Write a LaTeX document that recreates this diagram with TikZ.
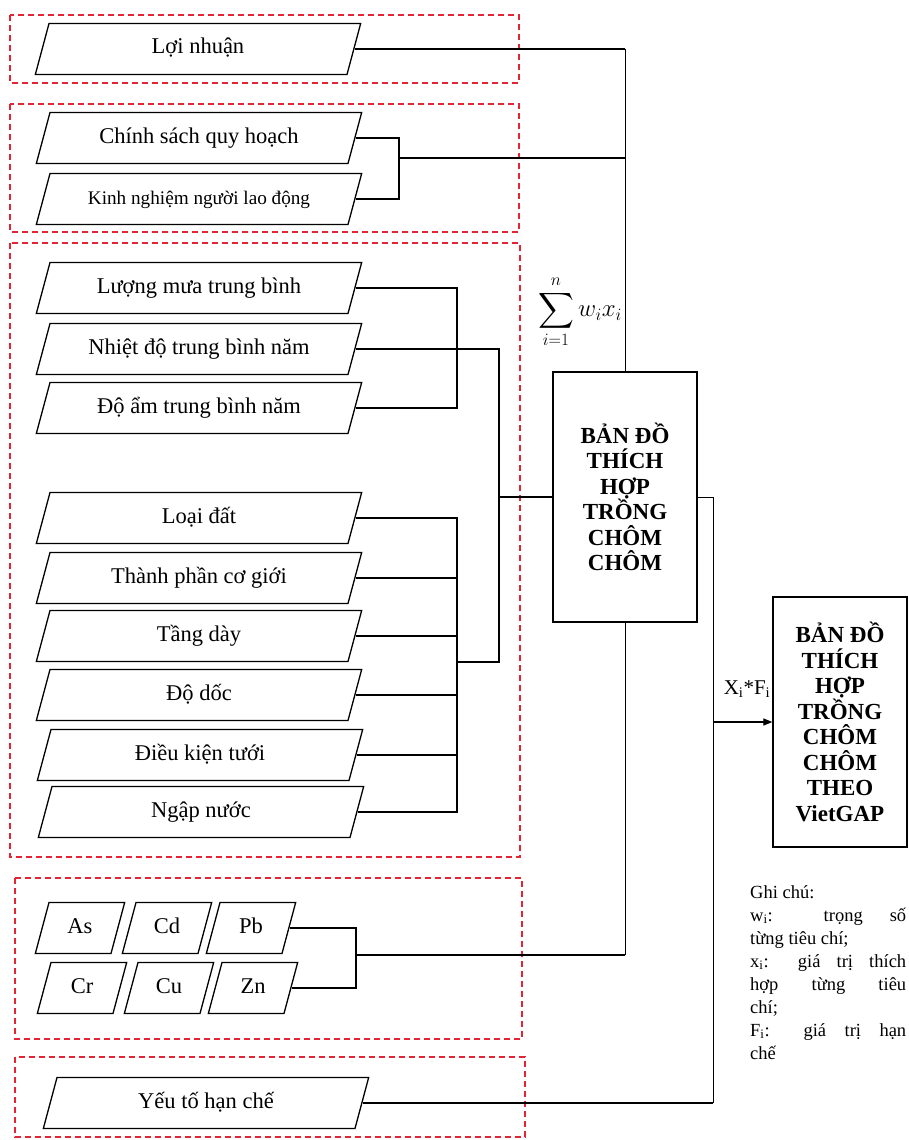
\documentclass[tikz,border=0pt]{standalone}
\usepackage{amsmath}
\usepackage{fontspec}
\setmainfont{Liberation Serif}
\usetikzlibrary{shapes.geometric,arrows.meta}

\definecolor{grpred}{RGB}{226,36,52}
\newcommand{\jline}[1]{\makebox[156pt][s]{#1}}

\tikzset{
  para/.style={trapezium, trapezium left angle=75, trapezium right angle=105,
    draw, line width=1.3pt, text width=298, align=flush center, text height=15,
    text depth=5, inner xsep=0pt, inner ysep=15.5, font=\fontsize{22.5}{25}\selectfont},
  metal/.style={para, text width=62},
  grp/.style={draw=grpred, line width=1.4pt, dash pattern=on 6pt off 4pt},
  mapbox/.style={draw, line width=1.3pt, minimum width=144, minimum height=250,
    align=center, inner sep=0pt, font=\bfseries\fontsize{23}{25.5}\selectfont},
  link/.style={line width=1.2pt},
  trunk/.style={line width=0.8pt}
}

\begin{document}
\begin{tikzpicture}[x=1pt,y=-1pt]
    \useasboundingbox (0,0) rectangle (909,1140);
    % group frames
    \draw[grp] (10,15) rectangle (519,83);
    \draw[grp] (10,104) rectangle (519,232);
    \draw[grp] (10,243) rectangle (520,857);
    \draw[grp] (15,878) rectangle (522,1039);
    \draw[grp] (15,1057) rectangle (525,1137);

    % criteria
    \node[para] (ln) at (198,49) {Lợi nhuận};
    \node[para] (cs) at (199,138) {Chính sách quy hoạch};
    \node[para, font=\fontsize{19.2}{22}\selectfont] (kn) at (199,199) {Kinh nghiệm người lao động};
    \node[para] (lm) at (199,288) {Lượng mưa trung bình};
    \node[para] (nd) at (199,349) {Nhiệt độ trung bình năm};
    \node[para] (da) at (199,408) {Độ ẩm trung bình năm};
    \node[para] (ld) at (199,518) {Loại đất};
    \node[para] (tp) at (199,578) {Thành phần cơ giới};
    \node[para] (td) at (199,636) {Tầng dày};
    \node[para] (dd) at (199,695) {Độ dốc};
    \node[para] (dk) at (200,755) {Điều kiện tưới};
    \node[para] (nn) at (201,812) {Ngập nước};
    \node[para] (yt) at (206,1103) {Yếu tố hạn chế};

    % heavy metals
    \node[metal] (as) at (80,928) {As};
    \node[metal] (cd) at (167,928) {Cd};
    \node[metal] (pb) at (251,928) {Pb};
    \node[metal] (cr) at (82,988) {Cr};
    \node[metal] (cu) at (169,988) {Cu};
    \node[metal] (zn) at (253,988) {Zn};

    % maps
    \node[mapbox] (map) at (625,497) {BẢN ĐỒ\\THÍCH\\HỢP\\TRỒNG\\CHÔM\\CHÔM};
    \node[mapbox, minimum width=134] (vgap) at (840,722) {BẢN ĐỒ\\THÍCH\\HỢP\\TRỒNG\\CHÔM\\CHÔM\\THEO\\VietGAP};

    % junctions
    \coordinate (ks) at (399,158);
    \coordinate (kx) at (457,497);
    \coordinate (kc) at (499,497);
    \coordinate (sj) at (499,662);
    \coordinate (mj) at (356,955);
    \coordinate (aj) at (713,722);

    \draw[link] (ln.east) -- (ln.east -| map.north);
    \draw[trunk] (ln.east -| map.north) -- (map.north);
    \draw[link] (cs.east) -| (ks) |- (kn.east);
    \draw[link] (ks) -- (ks -| map.north);
    \draw[link] (lm.east) -| (da.east -| kx) -- (da.east);
    \draw[link] (nd.east) -| (sj) -- (sj -| kx);
    \draw[link] (ld.east) -| (nn.east -| kx) -- (nn.east);
    \foreach \n in {tp,td,dd,dk}
      \draw[link] (\n.east) -- (\n.east -| kx);
    \draw[link] (kc) -- (map.west);
    \draw[link] (pb.east) -| (mj) |- (zn.east);
    \draw[link] (mj) -- (mj -| map.south);
    \draw[trunk] (mj -| map.south) -- (map.south);
    \draw[trunk] (map.east) -| (yt.east -| aj);
    \draw[link] (yt.east) -- (yt.east -| aj);
    \draw[link, -{Triangle[length=9pt,width=7pt]}] (aj) -- (vgap.west);

    % labels
    \node[font=\fontsize{21}{24}\selectfont] (xf) at (747,689) {X\textsubscript{i}*F\textsubscript{i}};
    \node[font=\fontsize{24}{28}\selectfont] (sum) at (580,312) {$\displaystyle\sum_{i=1}^{n} w_i x_i$};
    \node[anchor=north west, align=left, inner sep=0pt,
      font=\fontsize{18.5}{23}\selectfont] (note) at (750,885) {%
      Ghi chú:\\
      \jline{w\textsubscript{i}: trọng số}\\
      từng tiêu chí;\\
      \jline{x\textsubscript{i}: giá trị thích}\\
      \jline{hợp từng tiêu}\\
      chí;\\
      \jline{F\textsubscript{i}: giá trị hạn}\\
      chế};
\end{tikzpicture}
\end{document}
